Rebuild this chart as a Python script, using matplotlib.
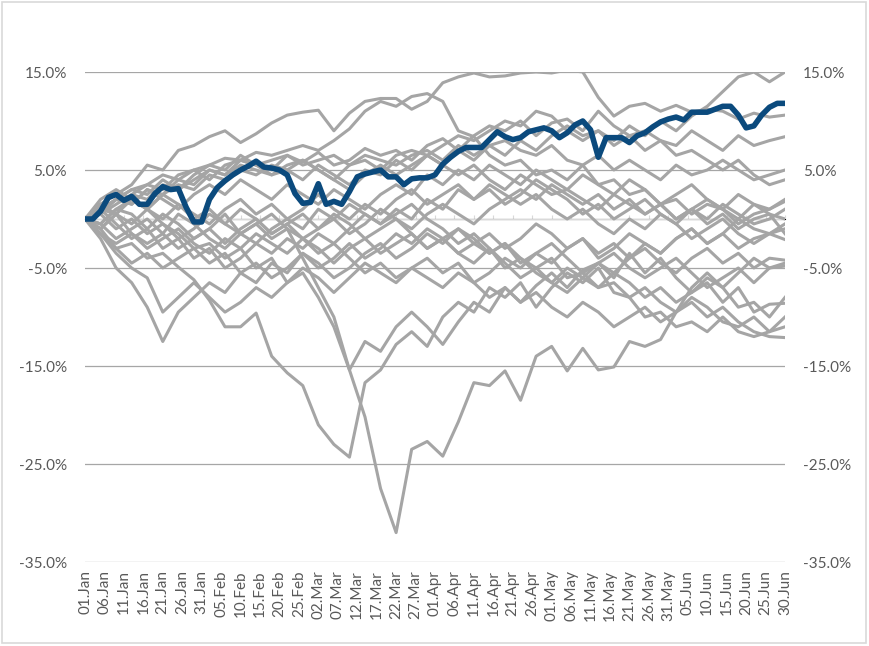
import datetime as dt
import matplotlib
matplotlib.use('Agg')
import matplotlib.pyplot as plt
import matplotlib.dates as mdates
from matplotlib.ticker import FuncFormatter
from matplotlib.patches import Rectangle

plt.rcParams['font.family'] = ['Lato', 'DejaVu Sans']

start = dt.date(2021, 1, 1)
gray_days = list(range(0, 181, 4))   # every 4th day
blue_days = list(range(0, 181, 2))   # every 2nd day

# highlighted series (blue)
blue = [0, 0, 0.8, 2.2, 2.5, 1.9, 2.3, 1.5, 1.5, 2.6,
        3.3, 3.0, 3.1, 1.2, -0.3, -0.3, 2.0, 3.2, 3.9, 4.5,
        5.0, 5.4, 5.9, 5.3, 5.2, 5.0, 4.5, 2.6, 1.6, 1.7,
        3.6, 1.5, 1.8, 1.5, 2.8, 4.3, 4.6, 4.8, 5.0, 4.3,
        4.3, 3.5, 4.1, 4.2, 4.2, 4.5, 5.6, 6.3, 6.9, 7.3,
        7.3, 7.3, 8.1, 8.9, 8.4, 8.1, 8.3, 8.9, 9.1, 9.3,
        9.0, 8.3, 8.8, 9.6, 10.0, 9.1, 6.3, 8.3, 8.3, 8.3,
        7.8, 8.5, 8.8, 9.4, 9.9, 10.2, 10.4, 10.1, 10.9, 10.9,
        10.9, 11.2, 11.5, 11.5, 10.6, 9.3, 9.5, 10.6, 11.4, 11.8,
        11.8]

# other series (grey)
g1 = [0, 1.5, 2.5, 3.5, 5.5, 5.0, 7.0, 7.5, 8.4, 9.0,
      7.8, 8.7, 9.8, 10.6, 10.9, 11.1, 9.0, 10.8, 12.0, 12.3,
      12.3, 11.2, 12.0, 13.9, 14.5, 14.9, 14.5, 14.6, 14.9, 15.0,
      14.9, 15.2, 15.0, 12.4, 10.5, 11.5, 11.8, 11.0, 11.6, 10.9,
      11.2, 11.0, 10.2, 10.8, 10.4, 10.6]
g2 = [0, 1.0, 2.0, 3.0, 3.5, 4.5, 4.0, 5.0, 5.5, 6.2,
      6.0, 6.8, 6.5, 7.0, 7.5, 7.0, 8.0, 9.2, 11.0, 12.0,
      11.5, 12.5, 12.8, 12.0, 9.0, 8.4, 6.5, 5.5, 6.0, 4.5,
      5.0, 4.0, 5.5, 3.5, 4.0, 2.5, 3.0, 1.5, 2.0, 0.5,
      1.5, 1.0, -0.5, 0.5, 1.0, 1.8]
d1 = [0, -1.5, -3.0, -2.5, -4.0, -3.5, -4.9, -6.2, -8.3, -11.0,
      -11.0, -9.6, -14.0, -15.7, -17.0, -21.0, -23.0, -24.3, -16.7, -15.4,
      -12.8, -11.5, -13.0, -10.0, -8.5, -9.5, -7.0, -8.0, -6.5, -9.0,
      -7.0, -5.5, -6.5, -5.0, -7.5, -8.0, -10.0, -9.5, -11.0, -10.5,
      -11.5, -10.0, -11.5, -12.0, -11.5, -11.0]
d2 = [0, -0.5, 1.0, 0.5, -1.0, 0.5, -0.5, -2.0, -1.0, 0.5,
      -1.5, -0.5, -2.0, -1.0, -4.0, -7.0, -10.0, -15.4, -20.2, -27.5,
      -32.0, -23.5, -22.7, -24.2, -20.7, -16.7, -17.0, -15.5, -18.5, -14.0,
      -13.0, -15.5, -13.2, -15.4, -15.1, -12.5, -13.0, -12.3, -9.5, -7.0,
      -5.5, -7.0, -9.0, -8.5, -10.0, -8.0]
d3 = [0, 1.5, 0.5, 2.0, 1.0, -0.5, -1.5, -3.0, -2.5, -4.0,
      -3.0, -5.0, -4.0, -6.5, -5.5, -8.0, -11.0, -15.4, -12.5, -13.5,
      -11.0, -9.5, -11.0, -12.8, -10.5, -8.5, -9.5, -7.0, -8.5, -6.8,
      -5.5, -7.0, -5.2, -4.5, -6.0, -3.5, -5.5, -4.0, -6.0, -7.5,
      -6.5, -8.5, -7.0, -9.5, -8.7, -8.6]
m1 = [0, 0.5, 2.0, 1.5, 3.0, 2.5, 4.0, 3.5, 5.0, 4.5,
      6.0, 5.5, 5.0, 6.5, 5.8, 6.8, 5.5, 6.0, 7.2, 6.5,
      7.0, 6.0, 7.5, 8.2, 7.0, 8.5, 9.5, 9.0, 10.0, 8.5,
      9.8, 10.2, 9.0, 11.0, 9.5, 8.5, 9.0, 8.0, 7.5, 9.0,
      8.0, 7.0, 8.5, 7.5, 8.0, 8.4]
m2 = [0, 1.0, 0.5, 2.5, 2.0, 3.5, 3.0, 4.0, 5.0, 4.5,
      5.5, 5.0, 4.5, 5.5, 6.0, 5.0, 4.0, 5.5, 6.5, 6.0,
      5.5, 6.5, 7.0, 6.0, 7.5, 6.5, 7.5, 8.0, 7.0, 6.5,
      7.5, 6.0, 5.5, 6.5, 5.0, 6.0, 5.0, 4.0, 5.5, 4.5,
      5.0, 6.0, 5.0, 4.0, 4.5, 5.0]
m3 = [0, -0.5, 1.0, 2.0, 1.0, 2.5, 3.5, 3.0, 4.5, 4.0,
      5.0, 4.5, 5.5, 5.0, 4.0, 5.5, 4.5, 3.5, 5.0, 4.5,
      6.0, 5.0, 6.5, 7.5, 8.5, 8.0, 9.0, 10.0, 9.5, 11.0,
      10.5, 9.0, 8.0, 9.0, 7.5, 8.5, 7.0, 8.0, 6.5, 7.0,
      6.0, 5.0, 6.0, 4.5, 3.5, 4.0]
m4 = [0, 1.5, 2.5, 1.5, 3.0, 2.0, 1.0, 2.5, 3.5, 2.5,
      4.0, 3.0, 2.0, 3.5, 2.5, 1.5, 3.0, 2.0, 1.0, 2.5,
      3.5, 2.5, 4.5, 3.5, 5.0, 4.0, 5.5, 4.5, 3.5, 5.0,
      4.0, 3.0, 4.5, 3.5, 2.5, 4.0, 3.0, 1.5, 2.5, 3.5,
      2.0, 1.0, 2.5, 1.5, 1.0, 2.0]
m5 = [0, -1.0, 0.5, -0.5, 1.0, 0.0, 1.5, 0.5, -0.5, 1.0,
      2.0, 0.5, 1.5, 0.0, 1.0, 2.5, 1.0, 0.0, 1.5, 0.5,
      2.0, 3.0, 1.5, 2.5, 3.5, 2.0, 3.0, 1.5, 2.5, 4.0,
      3.0, 2.0, 0.5, 1.5, 0.0, 1.0, 2.0, 0.5, -0.5, 1.0,
      0.0, 1.5, 0.5, -0.5, 0.0, 1.0]
m6 = [0, 0.5, -1.0, 0.0, -1.5, -0.5, -2.0, -1.0, 0.5, -0.5,
      1.0, 0.0, -1.5, -0.5, 0.5, -1.0, 0.0, 1.5, 0.5, -0.5,
      1.0, 0.0, 2.0, 1.0, 3.0, 2.0, 3.5, 2.5, 1.5, 2.5,
      1.0, 0.0, 1.0, -0.5, -1.5, 0.0, -1.0, 0.5, -0.5, -2.0,
      -1.0, 0.0, -1.5, -2.5, -1.5, -1.0]
m7 = [0, -1.5, -2.5, -1.5, -3.0, -2.0, -1.0, -2.5, -3.5, -2.0,
      -3.0, -1.5, -2.5, -3.5, -2.0, -3.0, -4.5, -3.0, -2.0, -3.5,
      -2.5, -1.5, -3.0, -2.0, -3.5, -4.5, -3.0, -5.0, -4.0, -5.5,
      -6.5, -5.0, -6.0, -4.5, -5.5, -4.0, -2.5, -3.5, -2.0, -1.0,
      -2.5, -1.5, -3.0, -2.0, -1.5, -2.1]
m8 = [0, 2.0, 3.0, 2.0, 1.0, 2.5, 1.5, 0.0, 1.0, -0.5,
      -1.5, -0.5, 0.5, -1.0, -2.0, -1.0, 0.5, -0.5, -2.0, -1.0,
      0.0, -1.5, -3.0, -2.0, -1.0, -2.5, -3.5, -2.5, -4.5, -3.5,
      -2.5, -4.0, -5.5, -4.5, -3.5, -5.0, -6.0, -5.0, -4.0, -5.5,
      -7.0, -6.0, -5.0, -6.5, -5.0, -4.5]
m9 = [0, -1.0, -3.0, -4.5, -3.5, -5.0, -4.0, -3.0, -4.5, -3.5,
      -5.5, -4.5, -6.0, -5.0, -3.5, -4.5, -6.0, -5.0, -3.5, -2.5,
      -4.0, -3.0, -1.5, -2.5, -1.0, -2.0, -3.5, -2.5, -4.0, -5.0,
      -4.0, -6.0, -5.5, -7.0, -6.5, -8.0, -7.0, -8.5, -9.5, -8.5,
      -10.0, -9.0, -10.5, -11.5, -12.0, -12.1]
m10 = [0, -0.5, -2.0, -1.0, 0.0, -1.5, 0.5, -0.5, -2.0, -3.0,
       -1.5, -2.5, -1.0, 0.0, -1.0, 1.0, 0.0, -1.5, -0.5, 1.0,
       0.0, -1.0, 0.5, 1.5, 0.5, -0.5, 1.0, 2.0, 3.0, 2.0,
       3.5, 2.5, 1.5, 2.5, 1.0, 2.0, 0.5, 1.5, 0.0, 1.0,
       -0.5, 0.5, -1.0, 0.0, 0.5, 0.0]
m11 = [0, -1.0, 0.5, -1.5, -2.5, -1.5, -3.0, -2.0, -1.0, -2.5,
       -1.0, 0.0, -1.5, -0.5, -2.0, -3.5, -2.5, -1.0, 0.5, -0.5,
       0.5, 1.5, 0.0, -1.0, -2.5, -1.5, -3.0, -4.5, -6.0, -5.0,
       -6.5, -7.5, -6.0, -7.0, -5.5, -6.5, -8.0, -7.0, -8.5, -7.5,
       -6.0, -7.0, -5.5, -4.0, -5.0, -4.8]
l1 = [0, -2.0, -5.0, -6.5, -9.0, -12.5, -9.5, -8.0, -6.5, -7.5,
      -5.5, -6.5, -4.5, -5.5, -3.5, -5.0, -4.0, -2.5, -4.0, -3.0,
      -1.5, -2.5, -1.0, -2.0, -3.5, -2.5, -1.5, -3.0, -2.0, -0.5,
      -1.5, -3.0, -2.0, -4.0, -3.0, -1.5, -2.5, -3.5, -2.0, -1.0,
      -2.5, -1.5, 0.0, -1.0, -1.5, -0.5]
l2 = [0, -1.5, -3.5, -5.0, -6.0, -9.5, -8.0, -6.5, -8.0, -9.5,
      -8.5, -7.0, -8.0, -6.5, -5.0, -6.0, -7.5, -6.0, -4.5, -5.5,
      -6.5, -5.0, -6.0, -7.0, -5.5, -6.5, -8.0, -7.0, -8.5, -7.5,
      -9.0, -10.0, -8.5, -9.5, -11.0, -10.0, -9.0, -10.5, -9.5, -8.0,
      -9.0, -10.5, -11.0, -10.0, -11.5, -10.0]
l3 = [0, 1.0, -0.5, -2.0, -1.0, -3.0, -2.0, -4.0, -3.0, -5.0,
      -4.0, -2.5, -3.5, -2.0, -3.0, -1.5, -2.5, -4.0, -5.5, -4.5,
      -6.0, -5.0, -4.0, -5.5, -4.5, -6.5, -5.5, -4.0, -5.0, -3.5,
      -4.5, -3.0, -2.0, -3.5, -2.5, -4.0, -3.0, -4.5, -5.5, -4.0,
      -3.0, -4.5, -3.5, -5.0, -4.0, -4.2]
u1 = [0, 1.0, 2.0, 3.0, 2.5, 4.0, 3.0, 4.5, 5.5, 5.0,
      6.5, 5.5, 4.5, 5.0, 6.0, 5.0, 4.0, 3.0, 4.5, 5.5,
      4.5, 5.5, 6.5, 5.5, 7.0, 6.0, 7.5, 6.5, 8.0, 7.0,
      8.5, 9.5, 8.5, 9.0, 8.0, 9.5, 8.5, 10.0, 9.0, 10.5,
      11.5, 13.0, 14.5, 15.0, 14.0, 15.0]
u2 = [0, 0.5, 1.5, 2.5, 3.5, 3.0, 4.5, 5.0, 4.0, 5.5,
      6.0, 5.5, 6.0, 6.5, 5.5, 6.0, 6.5, 5.5, 6.0, 5.0,
      6.5, 7.0, 6.5, 5.5, 4.5, 5.5, 4.0, 3.0, 4.5, 3.5,
      2.5, 3.0, 2.0, 1.0, 2.5, 1.5, 0.5, 1.5, 0.0, 1.0,
      2.0, 1.0, 0.0, 1.5, 0.5, -1.5]

grey_series = [g1, g2, d1, d2, d3, m1, m2, m3, m4, m5, m6, m7, m8, m9,
               m10, m11, l1, l2, l3, u1, u2]

yticks = [-35, -25, -15, -5, 5, 15]

gray_dates = [start + dt.timedelta(days=d) for d in gray_days]
blue_dates = [start + dt.timedelta(days=d) for d in blue_days]
tick_dates = [start + dt.timedelta(days=d) for d in range(0, 181, 5)]

fig = plt.figure(figsize=(8.69, 6.46), dpi=100)
ax = fig.add_axes([85 / 869, 1 - 562 / 646, 700 / 869, 490 / 646])

for s in grey_series:
    ax.plot(gray_dates, s, color='#a5a5a5', lw=2.2, solid_joinstyle='round', zorder=2)
ax.plot(blue_dates, blue, color='#0b4a7d', lw=4.0, solid_joinstyle='round',
        solid_capstyle='round', zorder=3)

ax.set_xlim(start, start + dt.timedelta(days=180))
ax.set_ylim(-35, 15)
ax.set_yticks(yticks)
ax.yaxis.set_major_formatter(FuncFormatter(lambda v, p: f'{v:.1f}%'))
ax.grid(axis='y', color='#a6a6a6', lw=0.9, zorder=0)
ax.set_axisbelow(True)

ax.set_xticks(tick_dates)
ax.xaxis.set_major_formatter(mdates.DateFormatter('%d.%b'))
ax.tick_params(axis='x', length=0, pad=6, labelsize=11, labelcolor='#595959',
               rotation=90)
ax.tick_params(axis='y', length=0, pad=13, labelsize=11, labelcolor='#595959',
               labelright=True)
for sp in ax.spines.values():
    sp.set_visible(False)

# horizontal axis line at zero with small tick marks
ax.axhline(0, color='#d9d9d9', lw=0.9, zorder=1)
zero_ax = ax.secondary_xaxis(35 / 50)
zero_ax.set_xticks(tick_dates)
zero_ax.tick_params(length=3, color='#d9d9d9', labelbottom=False, direction='out')
zero_ax.xaxis.set_major_formatter(FuncFormatter(lambda v, p: ''))
zero_ax.spines['bottom'].set_visible(False)

fig.patches.append(Rectangle((0.002, 0.004), 0.994, 0.993, transform=fig.transFigure,
                             fill=False, edgecolor='#d9d9d9', lw=1.2))

fig.savefig('out.png', dpi=100)
